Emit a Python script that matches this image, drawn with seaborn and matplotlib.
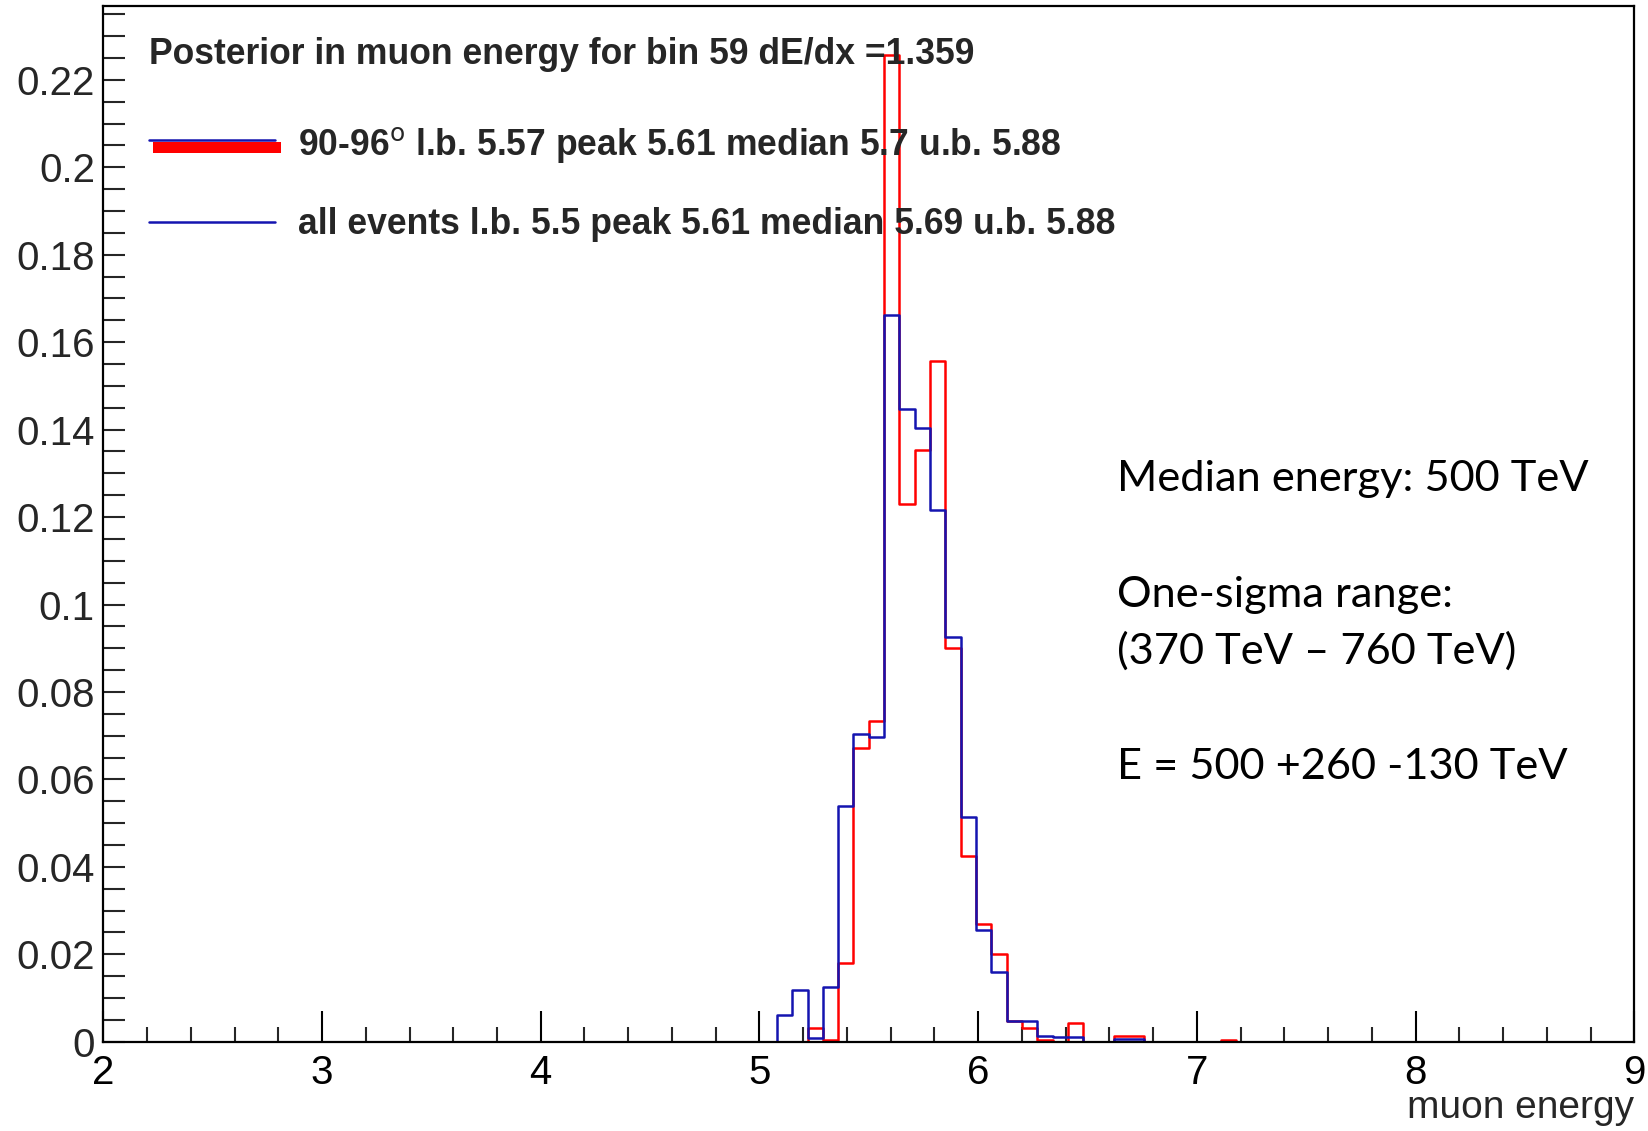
import numpy as np
import pandas as pd
import matplotlib
matplotlib.use("Agg")
import matplotlib.pyplot as plt
import seaborn as sns
from matplotlib.ticker import MultipleLocator, FuncFormatter
from matplotlib.lines import Line2D
from matplotlib.patches import Rectangle

# ---------------- data ----------------
x_min, x_max, n_bins = 2.0, 9.0, 100
first_bin = 44  # index of first listed bin

# 90-96 deg sample (red), bins 44..73
red_vals = [0, 0, 0.0031, 0.0004, 0.0181, 0.0671, 0.0734, 0.2257, 0.1230, 0.1354,
            0.1556, 0.0900, 0.0425, 0.0269, 0.0200, 0.0048, 0.0031, 0.0005, 0, 0.0042,
            0, 0, 0.0013, 0.0013, 0, 0, 0, 0, 0, 0.0004]
# all events (blue), bins 44..67
blue_vals = [0.0061, 0.0118, 0.0008, 0.0124, 0.0540, 0.0703, 0.0696, 0.1663, 0.1447, 0.1403,
             0.1216, 0.0925, 0.0515, 0.0256, 0.0160, 0.0048, 0.0048, 0.0013, 0.0011, 0.0011,
             0, 0, 0.0006, 0.0006]

title_text = "Posterior in muon energy for bin 59 dE/dx =1.359"
red_label = "90-96$^{\\mathrm{o}}$ l.b. 5.57 peak 5.61 median 5.7 u.b. 5.88"
blue_label = "all events l.b. 5.5 peak 5.61 median 5.69 u.b. 5.88"
notes = ["Median energy: 500 TeV", "One-sigma range:", "(370 TeV \u2013 760 TeV)",
         "E = 500 +260 -130 TeV"]
x_label = "muon energy"

# ---------------- build table ----------------
edges = np.linspace(x_min, x_max, n_bins + 1)
centers = 0.5 * (edges[:-1] + edges[1:])


def full_weights(vals):
    w = np.zeros(n_bins)
    w[first_bin:first_bin + len(vals)] = vals
    return w


df = pd.concat([
    pd.DataFrame({"energy": centers, "w": full_weights(red_vals), "sample": "red"}),
    pd.DataFrame({"energy": centers, "w": full_weights(blue_vals), "sample": "blue"}),
], ignore_index=True)

# ---------------- figure ----------------
sns.set_theme(style="white")
plt.rcParams["font.family"] = ["Liberation Sans", "DejaVu Sans"]

W, H = 1648, 1131
fig = plt.figure(figsize=(W / 100, H / 100), dpi=100)
ax_l, ax_r, ax_t, ax_b = 103.3, 1634.3, 6.0, 1041.7
ax = fig.add_axes([ax_l / W, 1 - ax_b / H, (ax_r - ax_l) / W, (ax_b - ax_t) / H])

red_col = "#ff0000"
blue_col = "#1414b0"

sns.histplot(data=df[df["sample"] == "red"], x="energy", weights="w", bins=n_bins,
             binrange=(x_min, x_max), element="step", fill=False, color=red_col,
             linewidth=1.8, ax=ax)
sns.histplot(data=df[df["sample"] == "blue"], x="energy", weights="w", bins=n_bins,
             binrange=(x_min, x_max), element="step", fill=False, color=blue_col,
             linewidth=1.8, ax=ax)

ax.set_xlim(x_min, x_max)
ax.set_ylim(0, 0.2369)
ax.set_ylabel("")
ax.set_xlabel(x_label, loc="right", fontsize=28, labelpad=-1.5)

ax.xaxis.set_major_locator(MultipleLocator(1))
ax.xaxis.set_minor_locator(MultipleLocator(0.2))
ax.yaxis.set_major_locator(MultipleLocator(0.02))
ax.yaxis.set_minor_locator(MultipleLocator(0.005))
ax.yaxis.set_major_formatter(FuncFormatter(lambda v, p: f"{v:.2f}".rstrip("0").rstrip(".") if v != 0 else "0"))

ax.tick_params(axis="x", which="major", direction="in", length=22, width=1.5,
               labelsize=29, pad=9, colors="black", bottom=True, top=False)
ax.tick_params(axis="x", which="minor", direction="in", length=11, width=1.5,
               bottom=True, top=False)
ax.tick_params(axis="y", which="major", direction="in", length=16, width=1.5,
               labelsize=29, pad=6, left=True, right=False)
ax.tick_params(axis="y", which="minor", direction="in", length=16, width=1.5,
               left=True, right=False)

for s in ax.spines.values():
    s.set_visible(True)
    s.set_color("black")
    s.set_linewidth(1.6)

# ---------------- legend (ROOT style) ----------------
def ax_xy(px, py):
    return ((px - ax_l) / (ax_r - ax_l), (ax_b - py) / (ax_b - ax_t))

fs_leg = 25.6
x0, y0 = ax_xy(149, 50)
ax.text(x0, y0, title_text, transform=ax.transAxes, fontsize=fs_leg, fontweight="bold",
        ha="left", va="center_baseline")

# entry 1: red thick bar + blue line
rx0, ry0 = ax_xy(153, 153)
rx1, ry1 = ax_xy(281, 142)
ax.add_patch(Rectangle((rx0, ry0), rx1 - rx0, ry1 - ry0, transform=ax.transAxes,
                       color=red_col, lw=0))
lx0, ly = ax_xy(149, 139.5)
lx1, _ = ax_xy(275, 139.5)
ax.add_line(Line2D([lx0, lx1], [ly, ly], transform=ax.transAxes, color=blue_col, lw=1.8))
tx, ty = ax_xy(298, 140)
ax.text(tx, ty, red_label, transform=ax.transAxes, fontsize=fs_leg, fontweight="bold",
        ha="left", va="center_baseline")

# entry 2
_, ly2 = ax_xy(149, 222)
ax.add_line(Line2D([lx0, lx1], [ly2, ly2], transform=ax.transAxes, color=blue_col, lw=1.8))
tx, ty = ax_xy(298, 221)
ax.text(tx, ty, blue_label, transform=ax.transAxes, fontsize=fs_leg, fontweight="bold",
        ha="left", va="center_baseline")

# ---------------- slide annotations ----------------
note_y = [479, 595, 651, 767]
for t, py in zip(notes, note_y):
    fig.text(1117 / W, 1 - py / H, t, fontsize=31.2, family=["Lato", "DejaVu Sans"],
             ha="left", va="center", color="black")

fig.savefig("out.png", dpi=100)
